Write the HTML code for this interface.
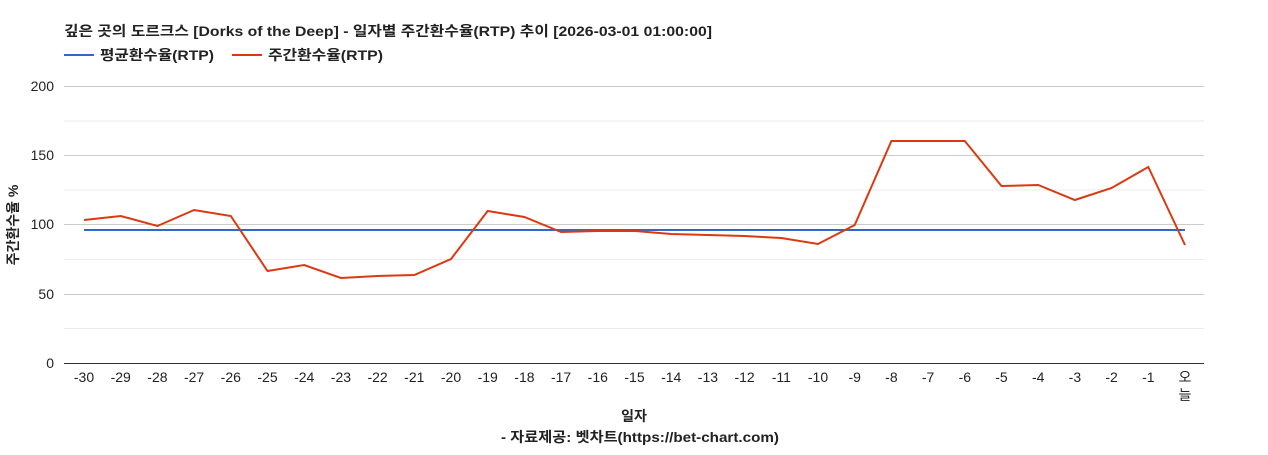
<!DOCTYPE html>
<html><head><meta charset="utf-8"><style>
body{margin:0;background:#fff;}
svg text{font-family:"Liberation Sans","Noto Sans CJK KR",sans-serif;}
</style></head><body>
<svg width="1268" height="450" xmlns="http://www.w3.org/2000/svg">
<rect width="1268" height="450" fill="#fff"/>
<text x="64" y="36" font-size="14" font-weight="bold" fill="#222" textLength="648" lengthAdjust="spacingAndGlyphs">깊은 곳의 도르크스 [Dorks of the Deep] - 일자별 주간환수율(RTP) 추이 [2026-03-01 01:00:00]</text>
<line x1="64" y1="55" x2="94" y2="55" stroke="#3366cc" stroke-width="2"/>
<text x="100" y="60" font-size="14" font-weight="bold" fill="#222" textLength="114" lengthAdjust="spacingAndGlyphs">평균환수율(RTP)</text>
<line x1="232" y1="55" x2="262" y2="55" stroke="#dc3912" stroke-width="2"/>
<text x="268" y="60" font-size="14" font-weight="bold" fill="#222" textLength="115" lengthAdjust="spacingAndGlyphs">주간환수율(RTP)</text>
<g stroke="#ebebeb" stroke-width="1">
<line x1="64" y1="121" x2="1204" y2="121"/><line x1="64" y1="190" x2="1204" y2="190"/>
<line x1="64" y1="259.5" x2="1204" y2="259.5"/><line x1="64" y1="328.5" x2="1204" y2="328.5"/>
</g>
<g stroke="#ccc" stroke-width="1">
<line x1="64" y1="86.5" x2="1204" y2="86.5"/><line x1="64" y1="155.5" x2="1204" y2="155.5"/>
<line x1="64" y1="224.5" x2="1204" y2="224.5"/><line x1="64" y1="294.5" x2="1204" y2="294.5"/>
</g>
<line x1="64" y1="363.5" x2="1204" y2="363.5" stroke="#333"/>
<g font-size="14" fill="#222" text-anchor="end">
<text x="54" y="91">200</text><text x="54" y="160">150</text><text x="54" y="229">100</text><text x="54" y="299">50</text><text x="54" y="368">0</text>
</g>
<text transform="translate(18,225) rotate(-90)" font-size="14" font-weight="bold" fill="#222" text-anchor="middle">주간환수율 %</text>
<g font-size="14" fill="#222" text-anchor="middle">
<text x="84.0" y="382">-30</text><text x="120.7" y="382">-29</text><text x="157.4" y="382">-28</text><text x="194.1" y="382">-27</text><text x="230.8" y="382">-26</text><text x="267.5" y="382">-25</text><text x="304.2" y="382">-24</text><text x="340.9" y="382">-23</text><text x="377.6" y="382">-22</text><text x="414.3" y="382">-21</text><text x="451.0" y="382">-20</text><text x="487.7" y="382">-19</text><text x="524.4" y="382">-18</text><text x="561.1" y="382">-17</text><text x="597.8" y="382">-16</text><text x="634.5" y="382">-15</text><text x="671.2" y="382">-14</text><text x="707.9" y="382">-13</text><text x="744.6" y="382">-12</text><text x="781.3" y="382">-11</text><text x="818.0" y="382">-10</text><text x="854.7" y="382">-9</text><text x="891.4" y="382">-8</text><text x="928.1" y="382">-7</text><text x="964.8" y="382">-6</text><text x="1001.5" y="382">-5</text><text x="1038.2" y="382">-4</text><text x="1074.9" y="382">-3</text><text x="1111.6" y="382">-2</text><text x="1148.3" y="382">-1</text>
<text x="1185" y="382">오</text><text x="1185" y="400">늘</text>
</g>
<polyline fill="none" stroke="#3366cc" stroke-width="2" points="84,230 1185,230"/>
<polyline fill="none" stroke="#dc3912" stroke-width="2" points="84.0,220 120.7,216 157.4,226 194.1,210 230.8,216 267.5,271 304.2,265 340.9,278 377.6,276 414.3,275 451.0,259 487.7,211 524.4,217 561.1,232 597.8,231 634.5,231 671.2,234 707.9,235 744.6,236 781.3,238 818.0,244 854.7,225 891.4,141 928.1,141 964.8,141 1001.5,186 1038.2,185 1074.9,200 1111.6,188 1148.3,167 1185,245"/>
<text x="634" y="421" font-size="14" font-weight="bold" fill="#222" text-anchor="middle">일자</text>
<text x="640" y="442" font-size="14" font-weight="bold" fill="#222" text-anchor="middle" textLength="278" lengthAdjust="spacingAndGlyphs">- 자료제공: 벳차트(https://bet-chart.com)</text>
</svg>
</body></html>
